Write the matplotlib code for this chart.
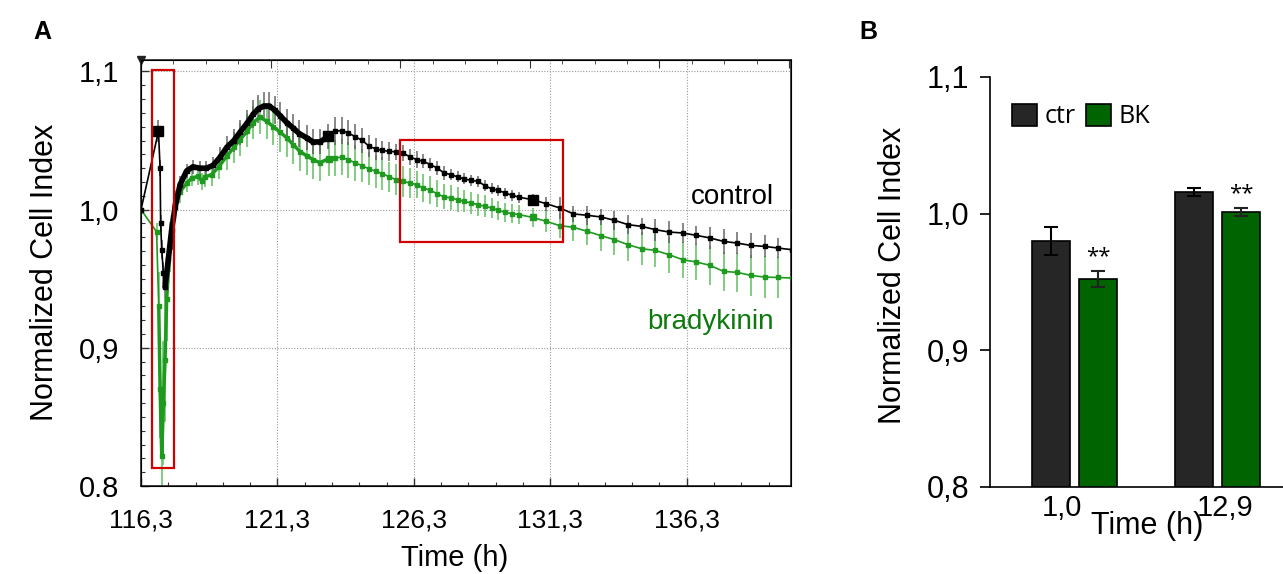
import numpy as np
import matplotlib.pyplot as plt
from matplotlib.patches import Rectangle
from matplotlib.ticker import MultipleLocator, FixedLocator

plt.rcParams['font.family'] = ['Liberation Sans', 'DejaVu Sans']

# ---------------- data, panel A (real-time cell index) ----------------
# control: start + spike + dense part
t_ctr_early = [116.30, 116.94, 117.00, 117.02, 117.06, 117.12,
               117.18, 117.30, 117.42, 117.55, 117.73, 117.97, 118.20, 118.45,
               118.70, 118.94, 119.20, 119.44, 119.70, 119.93, 120.20, 120.41,
               120.60, 120.80, 121.00, 121.20, 121.40, 121.64, 121.88, 122.10,
               122.37, 122.60, 122.86, 123.16]
ctr_early = [1.000, 1.0567, 1.030, 0.990, 0.971, 0.954,
             0.944, 0.964, 0.985, 1.002, 1.018, 1.028, 1.031, 1.030,
             1.030, 1.032, 1.038, 1.045, 1.050, 1.056, 1.063, 1.069,
             1.073, 1.075, 1.075, 1.072, 1.068, 1.063, 1.059, 1.055,
             1.052, 1.049, 1.049, 1.053]
ctr_early_err = [0.000, 0.008, 0.006, 0.006, 0.007, 0.008,
                 0.008, 0.008, 0.008, 0.007, 0.006, 0.005, 0.005, 0.005,
                 0.005, 0.006, 0.007, 0.008, 0.008, 0.009, 0.009, 0.010,
                 0.010, 0.010, 0.010, 0.010, 0.010, 0.010, 0.010, 0.010,
                 0.009, 0.009, 0.009, 0.009]

# bradykinin: start + spike + dense part
t_bk_early = [116.30, 116.87, 116.95, 117.00, 117.06,
              117.12, 117.18, 117.24, 117.36, 117.48, 117.60, 117.73, 117.97,
              118.16, 118.40, 118.53, 118.65, 118.89, 119.15, 119.44, 119.70,
              119.93, 120.20, 120.41, 120.66, 120.90, 121.15, 121.40, 121.64,
              121.88, 122.13, 122.37, 122.62, 122.86, 123.19]
bk_early = [1.000, 0.984, 0.930, 0.870, 0.822,
            0.860, 0.891, 0.935, 0.973, 0.995, 1.006, 1.013, 1.019,
            1.023, 1.024, 1.0205, 1.0237, 1.0254, 1.031, 1.0386, 1.045,
            1.0507, 1.057, 1.063, 1.067, 1.064, 1.060, 1.056, 1.052,
            1.047, 1.042, 1.039, 1.036, 1.034, 1.037]
bk_early_err = [0.000, 0.006, 0.025, 0.035, 0.030,
                0.045, 0.045, 0.030, 0.018, 0.010, 0.008, 0.008, 0.006,
                0.006, 0.006, 0.006, 0.007, 0.008, 0.009, 0.010, 0.011,
                0.012, 0.012, 0.012, 0.012, 0.013, 0.013, 0.014, 0.014,
                0.014, 0.014, 0.014, 0.014, 0.013, 0.013]

# sparse part, shared time points
t_late = [123.40, 123.65, 123.90, 124.15, 124.40, 124.65, 124.90, 125.15,
          125.40, 125.65, 125.90, 126.15, 126.40, 126.65, 126.90, 127.15,
          127.40, 127.65, 127.90, 128.15, 128.40, 128.65, 128.90, 129.15,
          129.40, 129.65, 129.90, 130.15, 130.65, 131.15,
          131.65, 132.15, 132.65, 133.15, 133.65, 134.15, 134.65, 135.15,
          135.65, 136.15, 136.65, 137.15, 137.65, 138.15, 138.65, 139.15,
          139.65, 140.15]
ctr_late = [1.0567, 1.0572, 1.0556, 1.0527, 1.0503, 1.0460, 1.0440, 1.0428,
            1.0422, 1.0418, 1.0411, 1.0382, 1.0362, 1.0350, 1.0326, 1.0302,
            1.0266, 1.0254, 1.0237, 1.0222, 1.0212, 1.0205, 1.0174, 1.0150,
            1.0140, 1.0120, 1.0104, 1.0090, 1.0072, 1.0043,
            1.0012, 0.9969, 0.9959, 0.9947, 0.9923, 0.9891, 0.9879, 0.9855,
            0.9838, 0.9831, 0.9814, 0.9795, 0.9770, 0.9758, 0.9741, 0.9734,
            0.9722, 0.9710]
ctr_late_err = [0.010, 0.010, 0.009, 0.009, 0.009, 0.008, 0.008, 0.007,
                0.007, 0.006, 0.006, 0.006, 0.006, 0.005, 0.005, 0.005,
                0.005, 0.004, 0.004, 0.004, 0.004, 0.004, 0.004, 0.004,
                0.004, 0.004, 0.004, 0.004, 0.004, 0.005,
                0.008, 0.006, 0.007, 0.006, 0.007, 0.007, 0.006, 0.008,
                0.008, 0.007, 0.007, 0.008, 0.009, 0.008, 0.009, 0.008,
                0.007, 0.006]
bk_late = [1.0375, 1.0379, 1.0362, 1.0338, 1.0319, 1.0295, 1.0278, 1.0261,
           1.0237, 1.0217, 1.0205, 1.0193, 1.0181, 1.0157, 1.0140, 1.0116,
           1.0092, 1.0085, 1.0072, 1.0060, 1.0048, 1.0036, 1.0024, 1.0012,
           0.9995, 0.9980, 0.9971, 0.9964, 0.9944, 0.9915,
           0.9884, 0.9872, 0.9843, 0.9812, 0.9783, 0.9746, 0.9717, 0.9705,
           0.9674, 0.9638, 0.9621, 0.9597, 0.9553, 0.9546, 0.9524, 0.9512,
           0.9509, 0.9505]
bk_late_err = [0.013, 0.013, 0.013, 0.013, 0.012, 0.012, 0.012, 0.012,
               0.011, 0.011, 0.011, 0.011, 0.010, 0.010, 0.010, 0.010,
               0.009, 0.009, 0.009, 0.008, 0.008, 0.008, 0.008, 0.007,
               0.007, 0.007, 0.007, 0.007, 0.007, 0.008,
               0.009, 0.010, 0.010, 0.011, 0.011, 0.012, 0.012, 0.012,
               0.013, 0.013, 0.013, 0.014, 0.014, 0.014, 0.015, 0.015,
               0.015, 0.015]

# time points drawn with a larger marker (medium changes)
ctr_big_t = [116.94, 123.16, 130.65]
bk_big_t = [123.19, 130.65]

# ---------------- data, panel B (bar chart) ----------------
groups = ['1,0', '12,9']
ctr_bar = [0.980, 1.016]
ctr_bar_err = [0.010, 0.003]
bk_bar = [0.952, 1.001]
bk_bar_err = [0.006, 0.003]
signif = ['**', '**']

# ---------------- figure ----------------
fig = plt.figure(figsize=(12.83, 5.74), dpi=100)

black = '#000000'
black_err = '#555555'
green = '#1e9a1e'
green_err = '#6cc26c'
text_green = '#0d7a0d'

# ===== panel A =====
axA = fig.add_axes([0.1099, 0.1533, 0.5066, 0.7422])

t_ctr = np.array(t_ctr_early + t_late)
y_ctr = np.array(ctr_early + ctr_late)
e_ctr = np.array(ctr_early_err + ctr_late_err)
t_bk = np.array(t_bk_early + t_late)
y_bk = np.array(bk_early + bk_late)
e_bk = np.array(bk_early_err + bk_late_err)

# error bars
axA.errorbar(t_bk, y_bk, yerr=e_bk, fmt='none', ecolor=green_err,
             elinewidth=1.4, alpha=0.85, zorder=2)
axA.errorbar(t_ctr, y_ctr, yerr=e_ctr, fmt='none', ecolor=black_err,
             elinewidth=1.4, alpha=0.7, zorder=3)

# thin connecting lines
axA.plot(t_bk, y_bk, color=green, lw=1.2, marker='s', ms=2.5, zorder=4)
axA.plot(t_ctr, y_ctr, color=black, lw=1.2, marker='s', ms=3.2, zorder=5)

# dense parts drawn thick
n_ctr_dense = len(t_ctr_early)
n_bk_dense = len(t_bk_early)
axA.plot(t_ctr[6:n_ctr_dense], y_ctr[6:n_ctr_dense], color=black, lw=4,
         solid_capstyle='round', zorder=5)
axA.plot(t_bk[2:n_bk_dense], y_bk[2:n_bk_dense], color=green, lw=2.5,
         solid_capstyle='round', zorder=4)

# larger markers
for tb in ctr_big_t:
    i = list(t_ctr).index(tb)
    axA.plot(t_ctr[i], y_ctr[i], 's', color=black, ms=6.5, zorder=6)
for tb in bk_big_t:
    i = list(t_bk).index(tb)
    axA.plot(t_bk[i], y_bk[i], 's', color=green, ms=5, zorder=6)

axA.set_xlim(116.3, 140.12)
axA.set_ylim(0.8, 1.1083)

xt = [116.3, 121.3, 126.3, 131.3, 136.3]
axA.set_xticks(xt)
axA.set_xticklabels(['116,3', '121,3', '126,3', '131,3', '136,3'])
axA.xaxis.set_minor_locator(FixedLocator(np.arange(116.3, 140.2, 1.0)))
axA.set_yticks([0.8, 0.9, 1.0, 1.1])
axA.set_yticklabels(['0.8', '0,9', '1,0', '1,1'])
axA.yaxis.set_minor_locator(MultipleLocator(0.01))
axA.tick_params(axis='both', which='both', direction='in', color='#333333')
axA.tick_params(axis='both', which='major', length=6, width=1)
axA.tick_params(axis='both', which='minor', length=3, width=0.8)
axA.tick_params(axis='x', which='major', labelsize=19, pad=16)
axA.tick_params(axis='y', which='major', labelsize=21, pad=16)

axA.grid(True, which='major', color='#999999', linestyle=(0, (1, 1.5)), lw=0.8)
for s in axA.spines.values():
    s.set_linewidth(1.2)
    s.set_color('#222222')

axA.set_xlabel('Time (h)', fontsize=21)
axA.xaxis.set_label_coords(0.483, -0.135)
axA.set_ylabel('Normalized Cell Index', fontsize=22)
axA.yaxis.set_label_coords(-0.125, 0.502)

# top ticks (independent scale)
axT = axA.twiny()
axT.set_xlim(0, 650 / 32.4)
axT.xaxis.set_major_locator(MultipleLocator(4))
axT.xaxis.set_minor_locator(MultipleLocator(1))
axT.tick_params(axis='x', which='both', direction='in', labeltop=False,
                color='#333333')
axT.tick_params(axis='x', which='major', length=6)
axT.tick_params(axis='x', which='minor', length=3)
axA.plot([116.3], [1.1083], 'v', color='#222222', ms=6, clip_on=False, zorder=7)

# highlight boxes
axA.add_patch(Rectangle((116.72, 0.8128), 0.78, 0.2886, fill=False,
                        edgecolor='#d00000', lw=1.6, zorder=8))
axA.add_patch(Rectangle((125.78, 0.9768), 5.97, 0.0739, fill=False,
                        edgecolor='#d00000', lw=1.6, zorder=8))

axA.text(139.5, 1.0094, 'control', fontsize=20, color='black',
         ha='right', va='center')
axA.text(139.5, 0.9188, 'bradykinin', fontsize=20, color=text_green,
         ha='right', va='center')

fig.text(42 / 1283, 1 - 32 / 574, 'A', fontsize=18, fontweight='bold',
         ha='center', va='center')

# ===== panel B =====
axB = fig.add_axes([0.7716, 0.1516, 0.2284, 0.7143])
x = np.arange(len(groups))
off = 0.164
w = 0.265
axB.bar(x - off, ctr_bar, w, bottom=0, color='#262626', edgecolor='black',
        lw=1.2, label='ctr', zorder=2)
axB.bar(x + off, bk_bar, w, bottom=0, color='#006400', edgecolor='black',
        lw=1.2, label='BK', zorder=2)
axB.errorbar(x - off, ctr_bar, yerr=ctr_bar_err, fmt='none', ecolor='black',
             elinewidth=1.5, capsize=5, capthick=1.5, zorder=3)
axB.errorbar(x + off, bk_bar, yerr=bk_bar_err, fmt='none', ecolor='#222222',
             elinewidth=1.5, capsize=5, capthick=1.5, zorder=3)
for xi, v, e, s in zip(x + off, bk_bar, bk_bar_err, signif):
    axB.text(xi, v + e + 0.003, s, fontsize=16, family=['Open Sans', 'DejaVu Sans'],
             ha='center', va='bottom')

axB.set_xlim(-0.591, 1.454)
axB.set_ylim(0.8, 1.1)
axB.set_yticks([0.8, 0.9, 1.0, 1.1])
axB.set_yticklabels(['0,8', '0,9', '1,0', '1,1'])
axB.tick_params(axis='y', direction='out', length=7, width=1.2, labelsize=22, pad=8)
axB.set_xticks([-0.089, 1.049])
axB.set_xticklabels(groups)
axB.tick_params(axis='x', length=0, labelsize=21, pad=5)
axB.spines['top'].set_visible(False)
axB.spines['right'].set_visible(False)
axB.spines['left'].set_linewidth(1.2)
axB.spines['bottom'].set_linewidth(1.2)

axB.set_xlabel('Time (h)', fontsize=22)
axB.xaxis.set_label_coords(0.536, -0.058)
axB.set_ylabel('Normalized Cell Index', fontsize=22)
axB.yaxis.set_label_coords(-0.28, 0.517)

axB.legend(loc='upper left', bbox_to_anchor=(0.0, 0.99), ncol=2, frameon=False,
           handlelength=1.0, handleheight=1.0, handletextpad=0.3,
           columnspacing=0.4, prop={'family': 'Open Sans', 'size': 18})

fig.text(868 / 1283, 1 - 32 / 574, 'B', fontsize=18, fontweight='bold',
         ha='center', va='center')

fig.savefig('out.png', dpi=100)
